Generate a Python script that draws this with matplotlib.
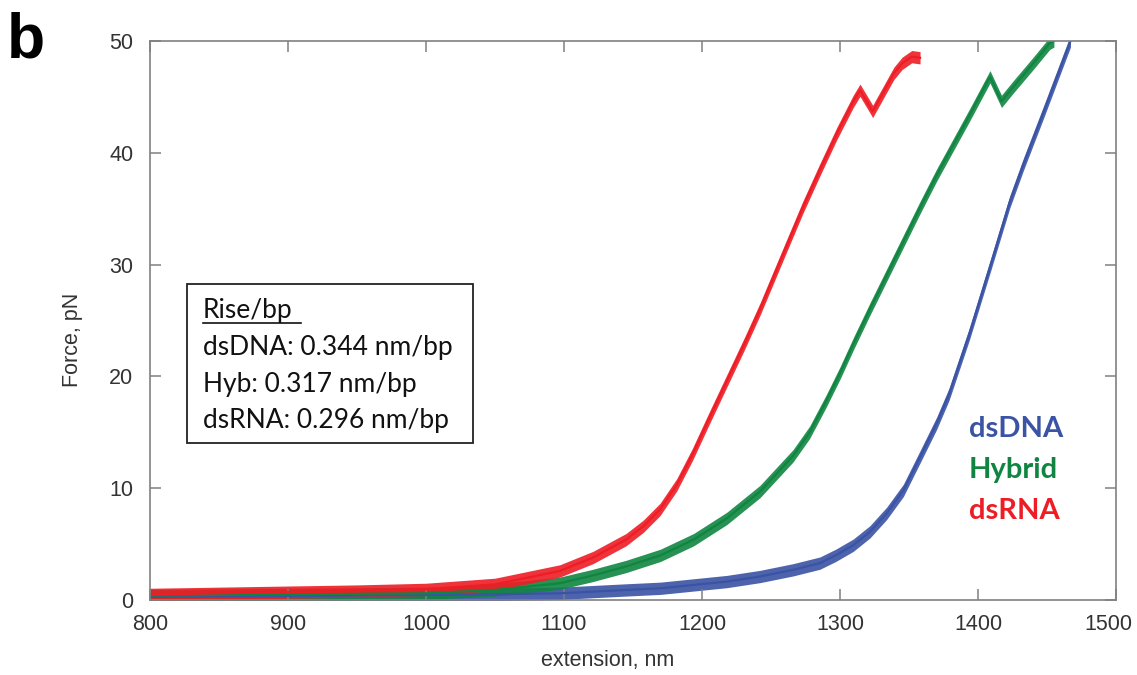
import matplotlib
matplotlib.use("Agg")
import matplotlib.pyplot as plt
from matplotlib.lines import Line2D
import matplotlib.transforms as mtransforms
import numpy as np

# ---- data (extension nm, force pN) ----
dna_ext = [800, 900, 1000, 1050, 1097, 1121, 1145, 1170, 1194, 1218, 1242,
           1266, 1285.5, 1297, 1309.6, 1321.7, 1333.8, 1345.9, 1358, 1370,
           1379, 1394, 1409.7, 1423, 1433, 1448, 1467]
dna_force = [0.3, 0.35, 0.45, 0.5, 0.6, 0.75, 0.9, 1.05, 1.35, 1.65, 2.1,
             2.7, 3.3, 4.0, 4.9, 6.1, 7.75, 9.8, 12.8, 15.8,
             18.4, 23.9, 30.2, 35.6, 39.0, 43.8, 50.0]

hyb_ext = [800, 900, 1000, 1050, 1097, 1121, 1145, 1170, 1194, 1218, 1242,
           1266, 1278, 1290, 1300, 1310, 1322, 1334, 1346, 1358, 1370, 1382,
           1394, 1408.7, 1417, 1425.6, 1440, 1452, 1455]
hyb_force = [0.4, 0.5, 0.6, 0.9, 1.5, 2.2, 3.0, 4.0, 5.4, 7.3, 9.7,
             12.9, 15.0, 17.8, 20.3, 23.0, 26.1, 29.1, 32.1, 35.1, 38.0, 40.7,
             43.4, 46.8, 44.6, 45.9, 48.0, 49.8, 50.0]

rna_ext = [800, 900, 950, 1000, 1050, 1097, 1121, 1145, 1157.5, 1169.6,
           1181.7, 1193, 1205, 1218, 1231, 1242, 1259, 1273, 1285.5,
           1297.6, 1309.6, 1314.5, 1323.7, 1339, 1345, 1352, 1358]
rna_force = [0.5, 0.7, 0.8, 0.95, 1.4, 2.6, 3.8, 5.4, 6.6, 8.1,
             10.3, 13.0, 16.2, 19.6, 23.0, 26.0, 31.0, 35.1, 38.5,
             41.7, 44.6, 45.6, 43.7, 47.1, 48.0, 48.6, 48.5]

x_ticks = [800, 900, 1000, 1100, 1200, 1300, 1400, 1500]
y_ticks = [0, 10, 20, 30, 40, 50]

series_names = ["dsDNA", "Hybrid", "dsRNA"]
box_lines = ["dsDNA: 0.344 nm/bp", "Hyb: 0.317 nm/bp", "dsRNA: 0.296 nm/bp"]

BLUE = "#3A53A4"
GREEN = "#108541"
RED = "#EE1D25"
GRAY = "#808080"
TXT = "#333333"

W, H = 1137, 675
fig = plt.figure(figsize=(W / 100, H / 100), dpi=100)
ax = fig.add_axes([150 / W, 1 - 600 / H, 966 / W, 559 / H])

band = 0.55
for ext, f, c in [(dna_ext, dna_force, BLUE), (hyb_ext, hyb_force, GREEN),
                  (rna_ext, rna_force, RED)]:
    e = np.array(ext, float)
    fa = np.array(f, float)
    ax.fill_between(e, fa - band, fa + band, color=c, lw=0, alpha=0.9)
    ax.plot(e, fa, color=c, lw=1.6, solid_joinstyle="round")

ax.set_xlim(800, 1500)
ax.set_ylim(0, 50)
ax.set_xticks(x_ticks)
ax.set_yticks(y_ticks)
ax.tick_params(direction="in", length=8, width=1.1, color=GRAY,
               top=True, right=True, labelsize=15.5, labelcolor=TXT)
ax.tick_params(axis="y", pad=12)
ax.tick_params(axis="x", pad=10)
for sp in ax.spines.values():
    sp.set_color(GRAY)
    sp.set_linewidth(1.2)
for lab in ax.get_xticklabels() + ax.get_yticklabels():
    lab.set_family("Liberation Sans")
# last x tick label sits slightly left in the reference (kept inside the figure)
last = ax.get_xticklabels()[-1]
last.set_transform(last.get_transform() +
                   mtransforms.ScaledTranslation(-8 / 100, 0, fig.dpi_scale_trans))

ax.set_xlabel("extension, nm", fontsize=15.5, color=TXT, family="Liberation Sans")
ax.set_ylabel("Force, pN", fontsize=15.5, color=TXT, family="Liberation Sans")
ax.xaxis.set_label_coords((608 - 150) / 966, (600 - 650) / 559)
ax.yaxis.set_label_coords((83 - 150) / 966, (600 - 340) / 559)

# panel letter
fig.text(7 / W, 1 - 57 / H, "b", fontsize=45, fontweight="bold",
         family="Liberation Sans", color="black", va="baseline", ha="left")


def px(xp, yp):
    return xp / W, 1 - yp / H


# info box
rect = plt.Rectangle(px(187, 443), (473 - 187) / W, (443 - 284) / H,
                     transform=fig.transFigure, fill=False,
                     edgecolor="#222222", lw=1.3)
fig.add_artist(rect)
fig.text(*px(203, 318), "Rise/bp", fontsize=19, family="Lato",
         color="#111111", va="baseline")
fig.add_artist(Line2D([203 / W, 301 / W], [1 - 323 / H, 1 - 323 / H],
                      transform=fig.transFigure, color="#111111", lw=1.2))
for i, t in enumerate(box_lines):
    fig.text(*px(203, 355 + 36.7 * i), t, fontsize=19, family="Lato",
             color="#111111", va="baseline")

# series labels
for i, (name, c) in enumerate(zip(series_names, [BLUE, GREEN, RED])):
    fig.text(*px(969, 437 + 41 * i), name, fontsize=21, family="Lato",
             fontweight="bold", color=c, va="baseline")

fig.savefig("out.png", dpi=100)
